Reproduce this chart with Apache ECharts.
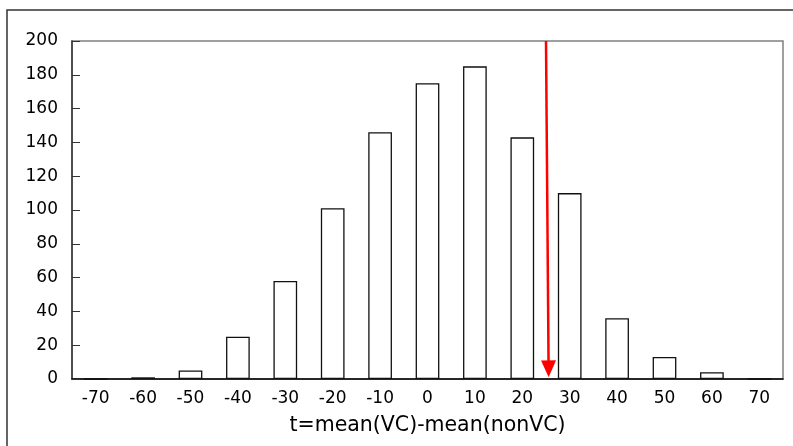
<!DOCTYPE html>
<html>
<head>
<meta charset="utf-8">
<script src="https://cdn.jsdelivr.net/npm/echarts@6/dist/echarts.min.js"></script>
<style>html,body{margin:0;padding:0;background:#fff}#c{width:793px;height:446px}</style>
</head>
<body>
<div id="c"></div>
<script>
const categories = ['-70','-60','-50','-40','-30','-20','-10','0','10','20','30','40','50','60','70'];
const counts = [0, 1, 5, 25, 58, 101, 146, 175, 185, 143, 110, 36, 13, 4, 0];
const yTicks = {min: 0, max: 200, interval: 20};
const observedTop = [25.0, 200];
const observedBottom = [25.55, 6];
const xTitle = 't=mean(VC)-mean(nonVC)';

const chart = echarts.init(document.getElementById('c'), null, {renderer: 'canvas'});
const font = 'DejaVu Sans';
chart.setOption({
  animation: false,
  backgroundColor: '#fff',
  graphic: [{
    type: 'rect', silent: true,
    shape: {x: 7, y: 10, width: 800, height: 450},
    style: {fill: 'none', stroke: '#333', lineWidth: 1.5}
  }],
  grid: {left: 72, right: 10, top: 41, bottom: 67, show: true, borderColor: '#808080', borderWidth: 1.5, containLabel: false},
  xAxis: [{
    type: 'category',
    data: categories,
    axisLine: {onZero: false, lineStyle: {color: '#000', width: 1.5}},
    axisTick: {inside: true, length: 6, lineStyle: {color: '#000'}},
    axisLabel: {color: '#000', fontFamily: font, fontSize: 17, margin: 11},
    name: xTitle,
    nameLocation: 'middle',
    nameGap: 36,
    nameTextStyle: {color: '#000', fontFamily: font, fontSize: 20.5}
  }, {
    type: 'value', min: -75, max: 75, show: false
  }],
  yAxis: {
    type: 'value',
    min: yTicks.min, max: yTicks.max, interval: yTicks.interval,
    splitLine: {show: false},
    axisLine: {show: true, onZero: false, lineStyle: {color: '#333', width: 1.5}},
    axisTick: {show: true, inside: true, length: 8, lineStyle: {color: '#333'}},
    axisLabel: {color: '#000', fontFamily: font, fontSize: 17, margin: 14}
  },
  series: [{
    type: 'bar',
    data: counts,
    barWidth: '50%',
    itemStyle: {color: '#fff', borderColor: '#111', borderWidth: 1.3}
  }, {
    type: 'line',
    xAxisIndex: 1,
    data: [observedTop, observedBottom],
    showSymbol: false,
    lineStyle: {width: 0, opacity: 0},
    silent: true,
    markLine: {
      silent: true,
      animation: false,
      label: {show: false},
      lineStyle: {color: '#ff0000', width: 2.5, type: 'solid'},
      symbol: ['none', 'triangle'],
      symbolSize: [15, 17],
      data: [[{coord: observedTop}, {coord: observedBottom}]]
    }
  }]
});
</script>
</body>
</html>
